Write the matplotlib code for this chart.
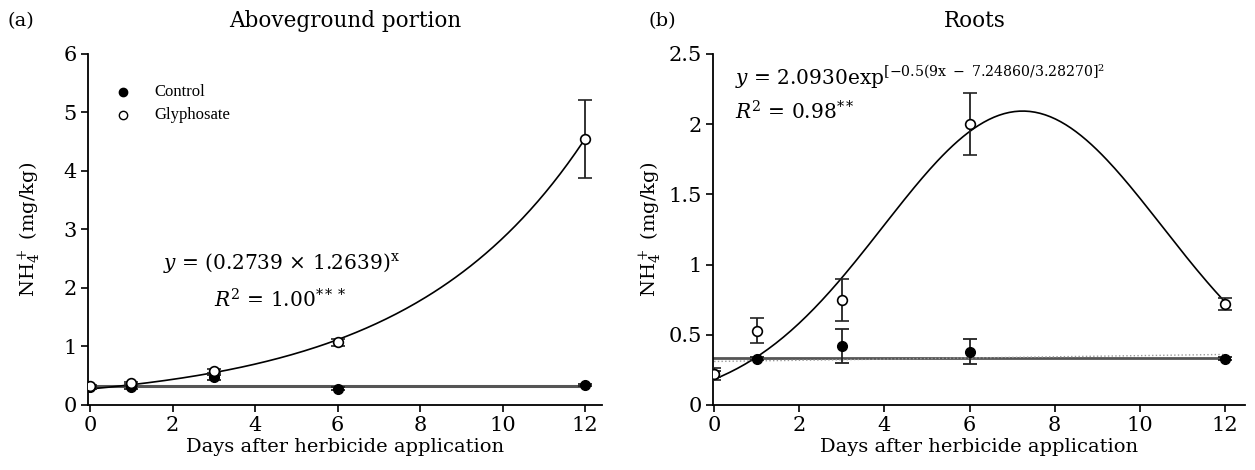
import matplotlib
matplotlib.use('Agg')
import matplotlib.pyplot as plt
import numpy as np

plt.rcParams['font.family'] = ['DejaVu Serif']
plt.rcParams['mathtext.fontset'] = 'dejavuserif'

days = [0, 1, 3, 6, 12]

# aboveground portion
ctrl_a = [0.30, 0.30, 0.47, 0.28, 0.34]
ctrl_a_err = [0.02, 0.02, 0.05, 0.02, 0.02]
gly_a = [0.32, 0.38, 0.58, 1.07, 4.55]
gly_a_err = [0.02, 0.02, 0.03, 0.06, 0.67]
ctrl_a_mean = 0.33
exp_a, exp_b = 0.2739, 1.2639

# roots
ctrl_b = [0.22, 0.33, 0.42, 0.38, 0.33]
ctrl_b_err = [0.02, 0.01, 0.12, 0.09, 0.01]
gly_b = [0.22, 0.53, 0.75, 2.00, 0.72]
gly_b_err = [0.04, 0.09, 0.15, 0.22, 0.04]
ctrl_b_mean = 0.335
ctrl_b_trend = (0.31, 0.36)
gauss_a, gauss_x0, gauss_w = 2.0930, 7.24860, 3.28270

fig = plt.figure(figsize=(12.55, 4.7), dpi=100)
ax1 = fig.add_axes([0.0701, 0.1383, 0.4096, 0.747])
ax2 = fig.add_axes([0.568, 0.1383, 0.424, 0.747])

err_kw = dict(capsize=5, elinewidth=1.3, capthick=1.3, ecolor='#222222', linestyle='none', markersize=7, zorder=4)

def style(ax, xlim, ylim, yticks, yticklabels, label_x):
    ax.set_xlim(*xlim)
    ax.set_ylim(*ylim)
    ax.set_xticks(range(0, 13, 2))
    ax.set_yticks(yticks)
    ax.set_yticklabels(yticklabels)
    for s in ['top', 'right']:
        ax.spines[s].set_visible(False)
    for s in ['left', 'bottom']:
        ax.spines[s].set_linewidth(1.3)
    ax.tick_params(labelsize=15, width=1.2, length=5, pad=3)
    ax.set_xlabel('Days after herbicide application', fontsize=14, labelpad=2)
    ax.set_ylabel(r'NH$_4^+$ (mg/kg)', fontsize=14)
    ax.yaxis.set_label_coords(label_x, 0.5)

# (a)
xs = np.linspace(0, 12, 200)
ax1.plot([0, 12], [ctrl_a_mean, ctrl_a_mean], color='#555555', lw=2.2, zorder=2)
ax1.plot(xs, exp_a * exp_b ** xs, color='black', lw=1.2, zorder=3)
ax1.errorbar(days, ctrl_a, yerr=ctrl_a_err, fmt='o', color='black', mfc='black', **err_kw)
ax1.errorbar(days, gly_a, yerr=gly_a_err, fmt='o', color='black', mfc='white', mew=1.2, **err_kw)
style(ax1, (-0.05, 12.41), (0, 6), range(0, 7), [str(v) for v in range(0, 7)], -0.088)

ax1.plot([0.8], [5.35], 'o', color='black', ms=6, clip_on=False)
ax1.plot([0.8], [4.96], 'o', color='black', mfc='white', ms=6, clip_on=False)
ax1.text(1.55, 5.35, 'Control', fontsize=12, family='Liberation Serif', va='center')
ax1.text(1.55, 4.96, 'Glyphosate', fontsize=12, family='Liberation Serif', va='center')

ax1.text(4.63, 2.43, r'$y$ = (0.2739 × 1.2639)$^{\mathrm{x}}$', fontsize=14.5, ha='center', va='center')
ax1.text(4.6, 1.8, r'$R^2$ = 1.00$^{***}$', fontsize=14.5, ha='center', va='center')

fig.text(0.006, 0.955, '(a)', fontsize=14, va='center')
fig.text(0.275, 0.955, 'Aboveground portion', fontsize=15.5, ha='center', va='center')

# (b)
xs = np.linspace(0, 12, 200)
ax2.plot([0, 12], [ctrl_b_mean, ctrl_b_mean], color='#555555', lw=2.0, zorder=2)
ax2.plot([0, 12], ctrl_b_trend, color='#999999', lw=1.0, ls=':', zorder=2)
ax2.plot(xs, gauss_a * np.exp(-0.5 * ((xs - gauss_x0) / gauss_w) ** 2), color='black', lw=1.2, zorder=3)
ax2.errorbar(days, ctrl_b, yerr=ctrl_b_err, fmt='o', color='black', mfc='black', **err_kw)
ax2.errorbar(days, gly_b, yerr=gly_b_err, fmt='o', color='black', mfc='white', mew=1.2, **err_kw)
style(ax2, (-0.03, 12.47), (0, 2.5), [0, 0.5, 1, 1.5, 2, 2.5], ['0', '0.5', '1', '1.5', '2', '2.5'], -0.092)

ax2.text(0.5, 2.34, r'$y$ = 2.0930exp$^{\mathrm{[-0.5(9x\ -\ 7.24860/3.28270]}^{2}}$', fontsize=14.5, va='center')
ax2.text(0.5, 2.09, r'$R^2$ = 0.98$^{**}$', fontsize=14.5, va='center')

fig.text(0.517, 0.955, '(b)', fontsize=14, va='center')
fig.text(0.777, 0.955, 'Roots', fontsize=15.5, ha='center', va='center')

fig.savefig('out.png', dpi=100)
